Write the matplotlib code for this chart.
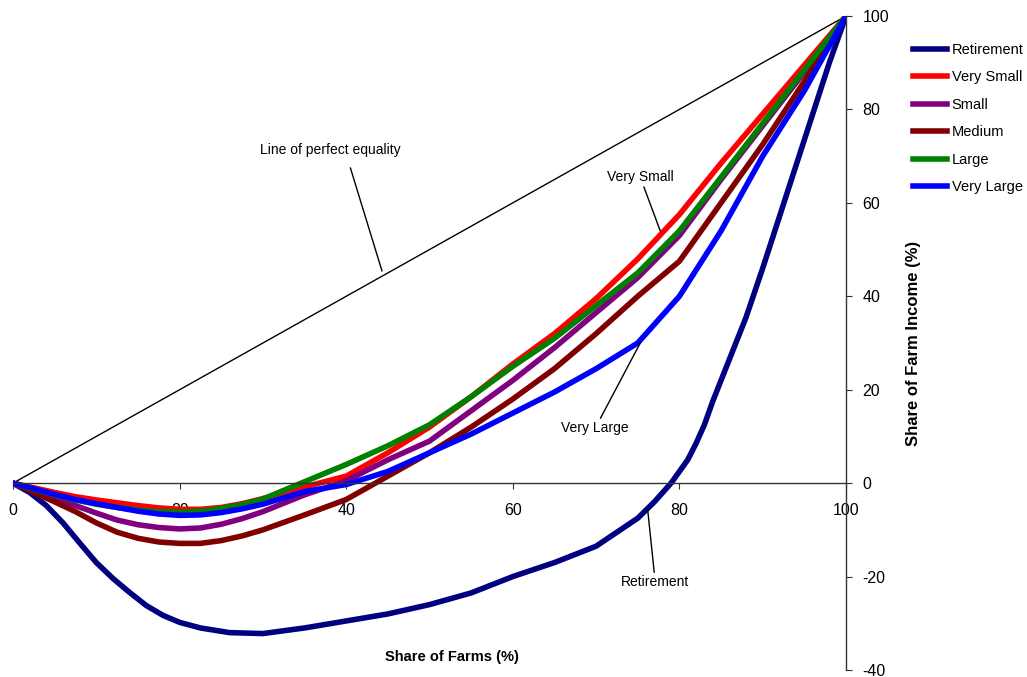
import matplotlib
matplotlib.use("Agg")
import matplotlib.pyplot as plt

plt.rcParams['font.family'] = ['Liberation Sans', 'DejaVu Sans']
plt.rcParams['axes.unicode_minus'] = False

# share of farms (%)
share = [0, 2.5, 5, 7.5, 10, 12.5, 15, 17.5, 20, 22.5, 25, 27.5, 30, 35, 40, 45, 50, 55,
         60, 65, 70, 75, 80, 85, 90, 95, 100]

very_small = [0, -1, -2, -2.9, -3.6, -4.2, -4.8, -5.3, -5.6, -5.6, -5.2, -4.4, -3.3, -0.8,
              1.5, 6.5, 12, 18.5, 25.5, 32, 39.5, 48, 57.5, 68.5, 79, 89.5, 100]
small = [0, -1.6, -3.2, -4.8, -6.4, -7.9, -8.9, -9.5, -9.8, -9.6, -8.8, -7.6, -6.1, -2.5,
         0.5, 5, 9, 15.5, 22, 29, 36.5, 44, 53, 65, 76.5, 88, 100]
medium = [0, -2, -4, -6.1, -8.5, -10.5, -11.8, -12.6, -12.9, -12.9, -12.3, -11.3, -10, -6.8,
          -3.5, 1.5, 6.5, 12, 18, 24.5, 32, 40, 47.5, 60, 72.5, 86, 100]
large = [0, -1.3, -2.5, -3.6, -4.5, -5.2, -5.8, -6.1, -6.2, -6, -5.4, -4.6, -3.4, 0.3,
         4, 8, 12.5, 18.5, 25, 31, 38, 45, 54, 65.5, 77, 88.5, 100]
very_large = [0, -1.2, -2.4, -3.5, -4.4, -5.2, -6, -6.6, -6.9, -6.8, -6.3, -5.5, -4.5, -1.8,
              -0.3, 2.5, 6.5, 10.5, 15, 19.5, 24.5, 30, 40, 54, 70, 84, 100]

ret_share = [0, 2, 4, 6, 8, 10, 12, 14, 16, 18, 20, 22.5, 26, 30, 35, 40, 45, 50, 55, 60, 65,
             70, 75, 77, 79, 80, 81, 82, 83, 84, 85, 86, 87, 88, 90, 92, 94, 96, 98, 100]
retirement = [0, -2, -4.8, -8.5, -12.8, -17, -20.4, -23.4, -26.2, -28.3, -29.8, -31, -32,
              -32.2, -31, -29.5, -28, -26, -23.5, -20, -17, -13.5, -7.5, -4, 0, 2.5, 5, 8.5,
              12.5, 17.5, 22, 26.5, 31, 35.5, 46, 57, 68, 79, 90, 100]

equality = [0, 100]

fig = plt.figure(figsize=(10.27, 6.77), dpi=100)
ax = fig.add_axes([13/1027, 1 - 670/677, (846 - 13)/1027, (670 - 16)/677])

ax.plot(equality, equality, color='black', lw=1)
ax.plot(ret_share, retirement, color='#000080', lw=4, label='Retirement')
ax.plot(share, very_small, color='#FF0000', lw=4, label='Very Small')
ax.plot(share, small, color='#800080', lw=4, label='Small')
ax.plot(share, medium, color='#800000', lw=4, label='Medium')
ax.plot(share, large, color='#008000', lw=4, label='Large')
ax.plot(share, very_large, color='#0000FF', lw=4, label='Very Large')

ax.set_xlim(0, 100)
ax.set_ylim(-40, 100)

ax.spines['left'].set_visible(False)
ax.spines['top'].set_visible(False)
ax.spines['bottom'].set_position(('data', 0))
for s in ['bottom', 'right']:
    ax.spines[s].set_color('#333333')
    ax.spines[s].set_linewidth(1)

ax.set_xticks([0, 20, 40, 60, 80, 100])
ax.set_yticks([-40, -20, 0, 20, 40, 60, 80, 100])
ax.yaxis.tick_right()
ax.tick_params(axis='x', direction='out', length=4, pad=10, labelsize=11.5, color='#333333')
ax.tick_params(axis='y', direction='out', length=4, pad=8, labelsize=11.5, color='#333333')

ax.yaxis.set_label_position('right')
ax.set_ylabel('Share of Farm Income (%)', fontsize=12, fontweight='bold')
ax.yaxis.set_label_coords(1.072, 0.5)

ax.text(52.7, -37.3, 'Share of Farms (%)', fontsize=10.5, fontweight='bold',
        ha='center', va='center')

arrow = dict(arrowstyle='-', color='black', lw=1, shrinkA=0, shrinkB=0)
ax.text(38.1, 71.3, 'Line of perfect equality', fontsize=10, ha='center', va='center')
ax.annotate('', xy=(44.3, 45.4), xytext=(40.5, 67.5), arrowprops=arrow)
ax.annotate('Very Small', xy=(77.7, 54), xytext=(75.3, 65.5),
            fontsize=10, ha='center', va='center', arrowprops=arrow)
ax.annotate('Very Large', xy=(75.3, 30), xytext=(69.9, 11.8),
            fontsize=10, ha='center', va='center', arrowprops=arrow)
ax.annotate('Retirement', xy=(76.2, -5.8), xytext=(77.1, -21.2),
            fontsize=10, ha='center', va='center', arrowprops=arrow)

fig.legend(loc='upper left', bbox_to_anchor=(913/1027, 1 - 43/677), frameon=False,
           fontsize=10.5, handlelength=2.3, handletextpad=0.35, labelspacing=0.92,
           borderpad=0, borderaxespad=0)

fig.savefig('out.png', dpi=100)
